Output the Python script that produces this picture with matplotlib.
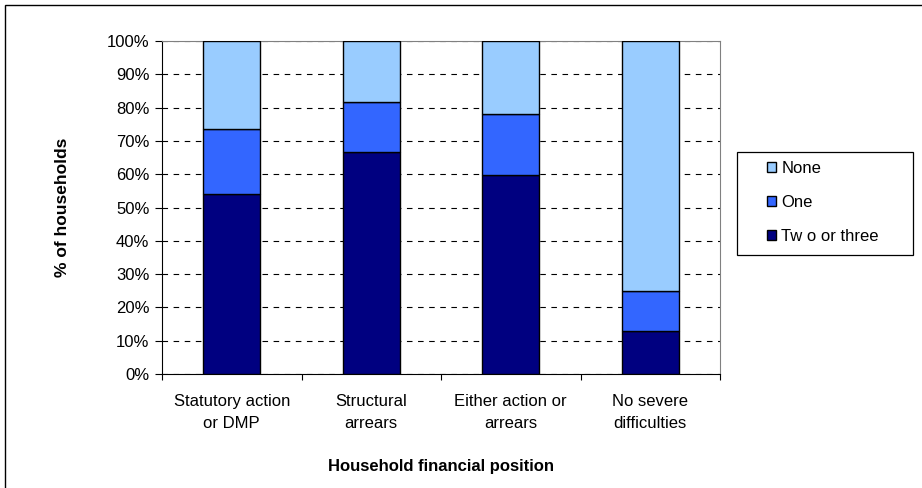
import numpy as np
import matplotlib.pyplot as plt
from matplotlib.patches import Rectangle

plt.rcParams['font.family'] = ['Liberation Sans', 'DejaVu Sans']

categories = ['Statutory action\nor DMP', 'Structural\narrears', 'Either action or\narrears', 'No severe\ndifficulties']
two_or_three = [54.0, 66.8, 59.8, 13.0]
one = [19.6, 14.9, 18.4, 11.8]
none = [26.4, 18.3, 21.8, 75.2]
series_names = ['Two or three', 'One', 'None']
legend_labels = ['None', 'One', 'Tw o or three']
colors = ['#000080', '#3366FF', '#99CCFF']

W, H = 922, 488
fig = plt.figure(figsize=(W / 100, H / 100), dpi=100)
ax = fig.add_axes([162 / W, 1 - 374 / H, 558 / W, 333 / H])

x = np.arange(len(categories))
bottom = np.zeros(len(categories))
handles = {}
for vals, name, c in zip([two_or_three, one, none], series_names, colors):
    b = ax.bar(x, vals, 0.41, bottom=bottom, color=c, edgecolor='black', linewidth=1.0, zorder=3)
    handles[name] = b
    bottom += np.array(vals)

ax.set_xlim(-0.5, len(categories) - 0.5)
ax.set_ylim(0, 100)
ax.set_yticks(np.arange(0, 101, 10))
ax.set_yticklabels([f'{v}%' for v in range(0, 101, 10)], fontsize=12)
ax.yaxis.grid(True, linestyle=(0, (5, 5)), color='black', linewidth=0.8, zorder=0)

ax.set_xticks(np.arange(-0.5, len(categories), 1.0))
ax.set_xticklabels([])
ax.set_xticks(x, minor=True)
ax.set_xticklabels(categories, minor=True, fontsize=12, linespacing=1.55)
ax.tick_params(axis='x', which='minor', length=0, pad=14.5)
ax.tick_params(axis='x', which='major', length=4, direction='out')
ax.tick_params(axis='y', length=5, direction='out', pad=4)

ax.spines['top'].set_color('#808080')
ax.spines['right'].set_color('#808080')
ax.spines['left'].set_color('black')
ax.spines['bottom'].set_color('black')

ax.set_ylabel('% of households', fontsize=12.5, fontweight='bold')
ax.yaxis.set_label_coords((70 - 162) / 558, 0.5)
ax.set_xlabel('Household financial position', fontsize=12, fontweight='bold')
ax.xaxis.set_label_coords(0.5, (374 - 459) / 333)

# legend frame drawn by hand so its size matches
fig.patches.append(Rectangle((737 / W, 1 - 255 / H), 176 / W, 103 / H, transform=fig.transFigure,
                             fill=False, edgecolor='black', linewidth=0.9))
leg = fig.legend([handles['None'], handles['One'], handles['Two or three']], legend_labels,
                 loc='upper left', bbox_to_anchor=(762 / W, 1 - 156 / H), fontsize=12,
                 frameon=False, handlelength=0.55, handleheight=0.55, handletextpad=0.3,
                 labelspacing=1.15, borderpad=0.3, borderaxespad=0)

fig.patches.append(Rectangle((5 / W, -0.05), 1.1, 1.05 - 5 / H, transform=fig.transFigure,
                             fill=False, edgecolor='black', linewidth=1.0))

fig.savefig('out.png', dpi=100)
